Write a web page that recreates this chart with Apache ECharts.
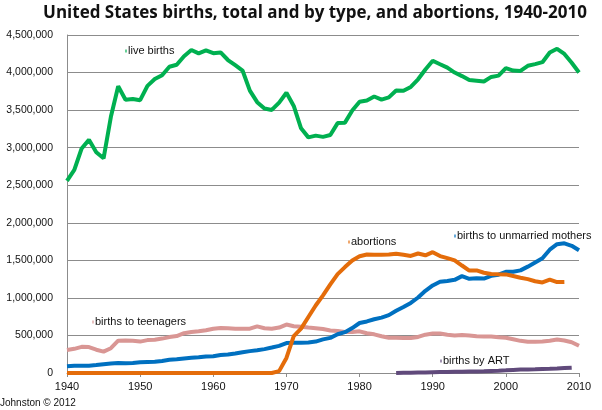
<!DOCTYPE html>
<html>
<head>
<meta charset="utf-8">
<script src="https://cdnjs.cloudflare.com/ajax/libs/echarts/6.0.0/echarts.min.js"></script>
<style>
  html, body { margin: 0; padding: 0; background: #fff; }
  #container { width: 602px; height: 410px; }
</style>
</head>
<body>
<div id="container"></div>
<script type="text/javascript">
var years = [];
for (var y = 1940; y <= 2010; y++) years.push(y);

var liveBirths = [
  2559000, 2703000, 2989000, 3104000, 2939000, 2858000, 3411000, 3817000, 3637000, 3649000,
  3632000, 3823000, 3913000, 3965000, 4078000, 4104000, 4218000, 4300000, 4255000, 4295000,
  4258000, 4268000, 4167000, 4098000, 4027000, 3760000, 3606000, 3521000, 3502000, 3600000,
  3731000, 3556000, 3258000, 3137000, 3160000, 3144000, 3168000, 3327000, 3333000, 3494000,
  3612000, 3629000, 3681000, 3639000, 3669000, 3761000, 3757000, 3809000, 3910000, 4041000,
  4158000, 4111000, 4065000, 4000000, 3953000, 3900000, 3891000, 3881000, 3942000, 3959000,
  4059000, 4026000, 4022000, 4090000, 4112000, 4138000, 4266000, 4316000, 4248000, 4131000,
  4000000
];

// 1940..2008
var abortions = [
  0, 0, 0, 0, 0, 0, 0, 0, 0, 0,
  0, 0, 0, 0, 0, 0, 0, 0, 0, 0,
  0, 0, 0, 0, 0, 0, 0, 0, 0, 25000,
  200000, 490000, 590000, 745000, 899000, 1034000, 1179000, 1317000, 1410000, 1498000,
  1554000, 1577000, 1574000, 1575000, 1577000, 1589000, 1574000, 1559000, 1591000, 1567000,
  1609000, 1557000, 1529000, 1500000, 1431000, 1364000, 1366000, 1335000, 1319000, 1315000,
  1313000, 1291000, 1269000, 1250000, 1222000, 1206000, 1242000, 1210000, 1212000
];

var unmarried = [
  89500, 95700, 96500, 98100, 105200, 117400, 125200, 131900, 129700, 133200,
  141600, 146500, 150300, 160800, 176600, 183300, 193500, 201700, 208700, 220600,
  224300, 240200, 245100, 259400, 275700, 291200, 302400, 318100, 339200, 360800,
  398700, 401400, 403200, 407300, 418100, 447900, 468100, 515700, 543900, 597800,
  665700, 686600, 715200, 737900, 770400, 828200, 878500, 933000, 1005300, 1094200,
  1165400, 1213800, 1224900, 1240200, 1289600, 1254000, 1260300, 1257400, 1293600, 1308600,
  1347000, 1349200, 1366000, 1416000, 1470200, 1527000, 1641900, 1714600, 1726600, 1693700,
  1633500
];

var teenagers = [
  306000, 322000, 348000, 345000, 310000, 284000, 330000, 430000, 432000, 428000,
  418000, 438000, 444000, 458000, 478000, 492000, 530000, 546000, 556000, 570000,
  590000, 600000, 596000, 590000, 590000, 590000, 621000, 596000, 590000, 605000,
  645000, 622000, 615000, 605000, 596000, 585000, 566000, 560000, 546000, 545000,
  555000, 530000, 515000, 490000, 470000, 468000, 465000, 465000, 480000, 510000,
  525000, 525000, 510000, 500000, 505000, 500000, 490000, 485000, 485000, 475000,
  470000, 450000, 428000, 416000, 416000, 420000, 430000, 445000, 432000, 410000,
  362000
];

// 1985..2009
var artYears = [];
for (var a = 1985; a <= 2009; a++) artYears.push(a);
var artBirths = [
  0, 2000, 4000, 6000, 8000, 10000, 12000, 14000, 16000, 18000,
  20000, 21000, 24000, 28000, 31000, 35000, 40000, 45000, 48000, 50000,
  53000, 56000, 60000, 65000, 70000
];

function pairs(xs, vs) {
  return vs.map(function (v, i) { return [xs[i], v]; });
}

var labelFont = '"Liberation Sans", Arial, sans-serif';
function seriesLabel(x, y, text, color) {
  return {
    type: 'text', left: x, top: y - 7,
    style: {
      text: '{m|}{t|' + text + '}',
      rich: {
        m: { backgroundColor: color, width: 2, height: 3, padding: 0, opacity: 0.6 },
        t: { fontSize: 11, fontFamily: labelFont, fill: '#111', padding: [0, 0, 0, 1] }
      }
    }
  };
}

var chart = echarts.init(document.getElementById('container'), null, { renderer: 'canvas' });

var option = {
  animation: false,
  backgroundColor: '#fff',
  title: {
    text: 'United States births, total and by type, and abortions, 1940-2010',
    left: 310, top: 0, textAlign: 'center',
    textStyle: { fontFamily: '"Open Sans", sans-serif', fontWeight: 'bold', fontSize: 17, color: '#111' }
  },
  grid: { left: 67, right: 23, top: 35, bottom: 37, containLabel: false },
  xAxis: {
    type: 'value', min: 1940, max: 2010, interval: 10,
    axisLine: { show: true, lineStyle: { color: '#8c8c8c', width: 1 } },
    axisTick: { show: true, length: 4, lineStyle: { color: '#8c8c8c' } },
    splitLine: { show: false },
    axisLabel: {
      color: '#111', fontSize: 11, fontFamily: labelFont, margin: 8,
      formatter: function (v) { return String(v); }
    }
  },
  yAxis: {
    type: 'value', min: 0, max: 4500000, interval: 500000,
    axisLine: { show: true, lineStyle: { color: '#8c8c8c', width: 1 } },
    axisTick: { show: false },
    splitLine: { show: true, lineStyle: { color: '#8c8c8c', width: 1 } },
    axisLabel: {
      color: '#111', fontSize: 10.5, fontFamily: labelFont, margin: 14,
      formatter: function (v) { return v.toLocaleString('en-US'); }
    }
  },
  series: [
    { name: 'teenagers', type: 'line', data: pairs(years, teenagers), showSymbol: false,
      lineStyle: { color: '#d99694', width: 4 } },
    { name: 'unmarried', type: 'line', data: pairs(years, unmarried), showSymbol: false,
      lineStyle: { color: '#0070c0', width: 4 } },
    { name: 'abortions', type: 'line', data: pairs(years, abortions), showSymbol: false,
      lineStyle: { color: '#e46c0a', width: 4 } },
    { name: 'art', type: 'line', data: pairs(artYears, artBirths), showSymbol: false,
      lineStyle: { color: '#604a7b', width: 4 } },
    { name: 'live', type: 'line', data: pairs(years, liveBirths), showSymbol: false,
      lineStyle: { color: '#00b050', width: 4 } }
  ],
  graphic: [
    seriesLabel(125, 52, 'live births', '#00b050'),
    seriesLabel(348, 243, 'abortions', '#e46c0a'),
    seriesLabel(454, 237, 'births to unmarried mothers', '#0070c0'),
    seriesLabel(92, 323, 'births to teenagers', '#d99694'),
    seriesLabel(440, 362, 'births by ART', '#604a7b'),
    { type: 'text', left: 0, top: 398,
      style: { text: 'Johnston \u00a9 2012', fontSize: 10, fontFamily: labelFont, fill: '#111' } }
  ]
};

chart.setOption(option);
</script>
</body>
</html>
